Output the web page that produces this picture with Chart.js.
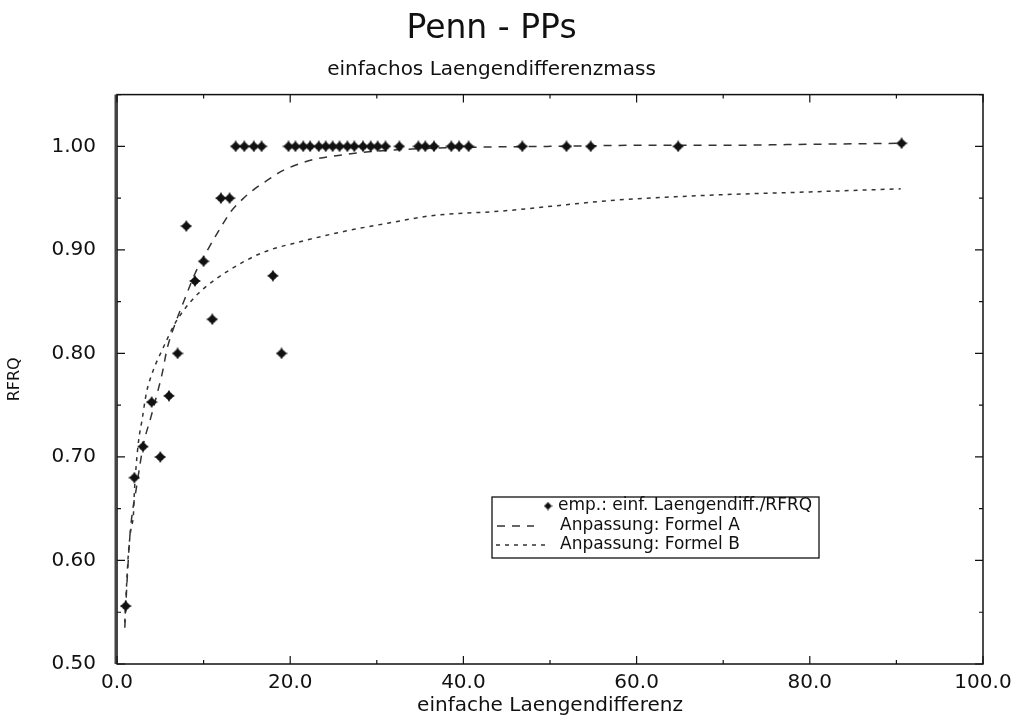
<!DOCTYPE html>
<html>
<head>
<meta charset="utf-8">
<script src="https://cdn.jsdelivr.net/npm/chart.js@4.4.1/dist/chart.umd.min.js"></script>
<style>
  html, body { margin: 0; padding: 0; background: #fff; }
  #wrap { width: 1012px; height: 718px; }
</style>
</head>
<body>
<div id="wrap"><canvas id="c" width="1012" height="718"></canvas></div>
<script>
// ---- data ----
const empX = [1.0, 2.0, 3.0, 4.0, 5.0, 6.0, 7.0, 8.0, 9.0, 10.0, 11.0, 12.0, 13.0,
  13.7, 14.7, 15.8, 16.7, 18.0, 19.0,
  19.8, 20.6, 21.5, 22.3, 23.3, 24.1, 24.9, 25.7, 26.6, 27.4, 28.4, 29.3, 30.1, 31.0,
  32.6, 34.8, 35.6, 36.6, 38.6, 39.5, 40.6, 46.8, 51.9, 54.7, 64.8, 90.6];
const empY = [0.556, 0.680, 0.710, 0.753, 0.700, 0.759, 0.800, 0.923, 0.870, 0.889, 0.833, 0.950, 0.950,
  1.0, 1.0, 1.0, 1.0, 0.875, 0.800,
  1.0, 1.0, 1.0, 1.0, 1.0, 1.0, 1.0, 1.0, 1.0, 1.0, 1.0, 1.0, 1.0, 1.0,
  1.0, 1.0, 1.0, 1.0, 1.0, 1.0, 1.0, 1.0, 1.0, 1.0, 1.0, 1.003];

const fitAX = [0.9, 1.1, 1.3, 1.5, 1.8, 2.2, 2.7, 3.1, 3.9, 4.6, 5.2, 5.8, 6.6, 7.8, 9.0, 10.6, 12.0,
  13.2, 14.5, 15.9, 17.5, 19.0, 21.0, 22.8, 26.3, 29.4, 33.0, 40.0, 50.0, 60.0, 70.0, 80.0, 90.5];
const fitAY = [0.535, 0.570, 0.600, 0.625, 0.648, 0.668, 0.695, 0.714, 0.738, 0.760, 0.780, 0.805, 0.826, 0.852, 0.877, 0.902, 0.922,
  0.9375, 0.949, 0.959, 0.968, 0.976, 0.983, 0.9875, 0.992, 0.995, 0.997, 0.999, 1.000, 1.001, 1.001, 1.002, 1.003];

const fitBX = [0.9, 1.1, 1.3, 1.6, 1.9, 2.0, 2.2, 2.5, 2.9, 3.4, 4.2, 5.2, 6.7, 8.5, 10.2, 12.9, 16.7,
  21.7, 26.3, 31.4, 36.3, 44.4, 57.5, 69.0, 80.0, 90.5];
const fitBY = [0.540, 0.575, 0.605, 0.630, 0.645, 0.665, 0.690, 0.716, 0.736, 0.762, 0.784, 0.803, 0.829, 0.850, 0.864, 0.880, 0.897,
  0.909, 0.918, 0.926, 0.933, 0.9375, 0.948, 0.953, 0.956, 0.959];

const xTickValues = [0, 20, 40, 60, 80, 100];
const yTickValues = [0.5, 0.6, 0.7, 0.8, 0.9, 1.0];

const titleText = 'Penn - PPs';
const subtitleText = 'einfachos Laengendifferenzmass';
const xTitle = 'einfache Laengendifferenz';
const yTitle = 'RFRQ';
const legendLabels = ['emp.: einf. Laengendiff./RFRQ', 'Anpassung: Formel A', 'Anpassung: Formel B'];

// ---- helpers ----
const FONT = "'DejaVu Sans', 'Liberation Sans', sans-serif";
const INK = '#111';
const zip = (xs, ys) => xs.map((x, i) => ({x: x, y: ys[i]}));

function makeStar(size) {
  const c = document.createElement('canvas');
  c.width = size; c.height = size;
  const g = c.getContext('2d');
  const m = size / 2, r = size / 2, k = size * 0.18;
  g.fillStyle = '#111';
  g.beginPath();
  g.moveTo(m, m - r);
  g.lineTo(m + k, m - k);
  g.lineTo(m + r, m);
  g.lineTo(m + k, m + k);
  g.lineTo(m, m + r);
  g.lineTo(m - k, m + k);
  g.lineTo(m - r, m);
  g.lineTo(m - k, m - k);
  g.closePath();
  g.fill();
  g.beginPath();
  g.arc(m, m, size * 0.3, 0, Math.PI * 2);
  g.fill();
  return c;
}
const starImg = makeStar(12);
const starSmall = makeStar(9);

const DASH_A = [8, 7];
const DASH_B = [4, 5];

// frame, inward ticks and legend
const framePlugin = {
  id: 'framePlugin',
  afterDraw(chart) {
    const {ctx, chartArea: a, scales: {x, y}} = chart;
    ctx.save();
    ctx.strokeStyle = INK;
    ctx.lineWidth = 1.5;
    ctx.strokeRect(a.left, a.top, a.right - a.left, a.bottom - a.top);
    ctx.lineWidth = 3;
    ctx.strokeStyle = '#444';
    ctx.beginPath();
    ctx.moveTo(a.left - 1, a.top); ctx.lineTo(a.left - 1, a.bottom);
    ctx.stroke();
    ctx.strokeStyle = INK;
    ctx.lineWidth = 1.2;
    ctx.beginPath();
    for (let v = 0; v <= 100; v += 10) {
      const px = x.getPixelForValue(v);
      const len = (v % 20 === 0) ? 8 : 4;
      ctx.moveTo(px, a.bottom); ctx.lineTo(px, a.bottom - len);
      ctx.moveTo(px, a.top); ctx.lineTo(px, a.top + len);
    }
    for (let i = 0; i <= 11; i++) {
      const v = 0.5 + i * 0.05;
      const py = y.getPixelForValue(v);
      const len = (i % 2 === 0) ? 8 : 4;
      ctx.moveTo(a.left, py); ctx.lineTo(a.left + len, py);
      ctx.moveTo(a.right, py); ctx.lineTo(a.right - len, py);
    }
    ctx.stroke();

    // legend box
    const bx = 492, by = 497, bw = 327, bh = 61;
    ctx.fillStyle = '#fff';
    ctx.fillRect(bx, by, bw, bh);
    ctx.lineWidth = 1.3;
    ctx.strokeStyle = INK;
    ctx.strokeRect(bx, by, bw, bh);
    ctx.font = '17px ' + FONT;
    ctx.fillStyle = INK;
    ctx.textBaseline = 'middle';
    ctx.textAlign = 'left';
    // row 1
    ctx.drawImage(starSmall, 548 - 4.5, 506 - 4.5);
    ctx.fillText(legendLabels[0], 558, 506);
    // row 2
    ctx.strokeStyle = '#333';
    ctx.lineWidth = 1.5;
    ctx.setLineDash(DASH_A);
    ctx.beginPath(); ctx.moveTo(497, 526); ctx.lineTo(534, 526); ctx.stroke();
    ctx.fillText(legendLabels[1], 560, 526);
    // row 3
    ctx.setLineDash(DASH_B);
    ctx.beginPath(); ctx.moveTo(496, 545); ctx.lineTo(546, 545); ctx.stroke();
    ctx.setLineDash([]);
    ctx.fillText(legendLabels[2], 560, 545);
    ctx.restore();
  }
};

new Chart(document.getElementById('c'), {
  type: 'scatter',
  data: {
    datasets: [
      {
        label: legendLabels[0],
        data: zip(empX, empY),
        pointStyle: starImg,
        pointRadius: 6,
        showLine: false,
        order: 0
      },
      {
        label: legendLabels[1],
        data: zip(fitAX, fitAY),
        showLine: true,
        pointRadius: 0,
        borderColor: '#333',
        borderWidth: 1.5,
        borderDash: DASH_A,
        cubicInterpolationMode: 'monotone',
        fill: false,
        order: 1
      },
      {
        label: legendLabels[2],
        data: zip(fitBX, fitBY),
        showLine: true,
        pointRadius: 0,
        borderColor: '#333',
        borderWidth: 1.5,
        borderDash: DASH_B,
        cubicInterpolationMode: 'monotone',
        fill: false,
        order: 2
      }
    ]
  },
  options: {
    responsive: false,
    animation: false,
    devicePixelRatio: 1,
    layout: { padding: { left: 0, right: 29, top: 0, bottom: 0 } },
    plugins: {
      legend: { display: false },
      tooltip: { enabled: false },
      title: {
        display: true,
        text: titleText,
        color: INK,
        font: { family: FONT, size: 33, weight: 'normal' },
        padding: { top: 10, bottom: 8 }
      },
      subtitle: {
        display: true,
        text: subtitleText,
        color: INK,
        font: { family: FONT, size: 20, weight: 'normal' },
        padding: { top: 0, bottom: 13 }
      }
    },
    scales: {
      x: {
        type: 'linear',
        min: 0,
        max: 100,
        afterFit(scale) { scale.height = 54; scale.paddingRight = 0; scale.paddingLeft = 0; },
        afterBuildTicks(scale) { scale.ticks = xTickValues.map(v => ({value: v})); },
        grid: { display: false, drawTicks: false },
        border: { display: false },
        ticks: {
          color: INK,
          font: { family: FONT, size: 20 },
          padding: 7,
          maxRotation: 0,
          callback: v => Number(v).toFixed(1)
        },
        title: {
          display: true,
          text: xTitle,
          color: INK,
          font: { family: FONT, size: 20 },
          padding: { top: 0, bottom: 0 }
        }
      },
      y: {
        type: 'linear',
        min: 0.5,
        max: 1.05,
        afterFit(scale) { scale.width = 117; scale.paddingTop = 0; scale.paddingBottom = 0; },
        afterBuildTicks(scale) { scale.ticks = yTickValues.map(v => ({value: v})); },
        grid: { display: false, drawTicks: false },
        border: { display: false },
        ticks: {
          color: INK,
          font: { family: FONT, size: 20 },
          padding: 21,
          callback: v => Number(v).toFixed(2)
        },
        title: {
          display: true,
          text: yTitle,
          color: INK,
          font: { family: FONT, size: 16 },
          padding: { top: 5, bottom: 0 }
        }
      }
    }
  },
  plugins: [framePlugin]
});
</script>
</body>
</html>
